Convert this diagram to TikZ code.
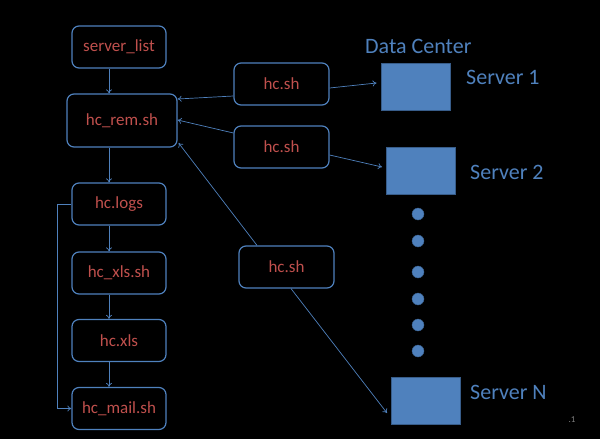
\documentclass[tikz,border=0pt]{standalone}
\usepackage{fontspec}
\setmainfont{Carlito}
\usetikzlibrary{arrows.meta,calc}
\definecolor{bord}{HTML}{4F81BD}
\definecolor{txt}{HTML}{C0504D}
\definecolor{sdark}{HTML}{385D8A}
\tikzset{
  filebox/.style={draw=bord,line width=1.2pt,rounded corners=7pt,text=txt,font=\fontsize{17}{20}\selectfont,inner sep=0pt},
  conn/.style={draw=bord,line width=0.7pt,-{To[length=4pt,width=6pt]}},
  plain/.style={draw=bord,line width=0.7pt},
  srv/.style={draw=sdark,fill=bord,line width=1pt,minimum width=69pt,minimum height=47pt,inner sep=0pt},
  srvlabel/.style={text=bord,font=\fontsize{22}{26}\selectfont,inner sep=0pt,anchor=west},
  dotc/.style={circle,fill=bord,draw=sdark,line width=0.4pt,minimum size=12pt,inner sep=0pt}
}
\begin{document}
\begin{tikzpicture}[x=1pt,y=-1pt]
\fill[black] (0,0) rectangle (600,439);
\useasboundingbox (0,0) rectangle (600,439);
% left column
\node[filebox,minimum width=94pt,minimum height=42pt] (sl) at (119,47) {server\_list};
\node[filebox,minimum width=110pt,minimum height=53pt] (rem) at (122,120.5) {hc\_rem.sh};
\node[filebox,minimum width=94pt,minimum height=42pt] (logs) at (119,204) {hc.logs};
\node[filebox,minimum width=94pt,minimum height=42pt] (xlssh) at (119,273) {hc\_xls.sh};
\node[filebox,minimum width=94pt,minimum height=42pt] (xls) at (119,340.5) {hc.xls};
\node[filebox,minimum width=94pt,minimum height=42pt] (mail) at (119,408.5) {hc\_mail.sh};
% hc.sh boxes
\node[filebox,minimum width=95pt,minimum height=42pt] (h1) at (281.5,84) {hc.sh};
\node[filebox,minimum width=95pt,minimum height=42pt] (h2) at (281.5,147) {hc.sh};
\node[filebox,minimum width=95pt,minimum height=42pt] (h3) at (286.5,267) {hc.sh};
% servers
\node[srv] (s1) at (415.5,86.5) {};
\node[srv] (s2) at (421,170.5) {};
\node[srv] (sn) at (426,401) {};
\node[srvlabel] (dc) at (365,46) {Data Center};
\node[srvlabel] (l1) at (466,77) {Server 1};
\node[srvlabel] (l2) at (470,172) {Server 2};
\node[srvlabel] (ln) at (470,392) {Server N};
\foreach \i/\y in {1/214,2/241,3/272,4/299,5/325,6/351}
  \node[dotc] (d\i) at (418,\y) {};
\node[text=gray,font=\fontsize{9}{10}\selectfont,inner sep=0pt] (pg) at (572,420) {.1};
% vertical arrows
\draw[conn] ([xshift=-10pt]sl.south) -- ([xshift=-13pt]rem.north);
\draw[conn] ([xshift=-13pt]rem.south) -- ([xshift=-10pt]logs.north);
\draw[conn] ([xshift=-10pt]logs.south) -- ([xshift=-10pt]xlssh.north);
\draw[conn] ([xshift=-10pt]xlssh.south) -- ([xshift=-10pt]xls.north);
\draw[conn] ([xshift=-10pt]xls.south) -- ([xshift=-10pt]mail.north);
% loop from logs to mail
\coordinate (lA) at (57,204);
\coordinate (lB) at (57,408.5);
\draw[conn] (logs.west) -- (lA) -- (lB) -- (mail.west);
% hc.sh to hc_rem
\draw[conn] ([yshift=-12pt]h1.west) -- ([yshift=21.5pt]rem.east);
\draw[conn] ([yshift=14pt]h2.west) -- ([yshift=0.5pt]rem.east);
\draw[conn] ([xshift=-29.5pt]h3.north) -- ([xshift=1pt,yshift=-22.5pt]rem.east);
% hc.sh to servers
\draw[conn] ([yshift=-4pt]h1.east) -- ([xshift=-4pt,yshift=3.5pt]s1.west);
\draw[conn] ([yshift=-8pt]h2.east) -- ([xshift=-4pt,yshift=3.5pt]s2.west);
\draw[conn] ([xshift=4.5pt]h3.south) -- ([xshift=-4pt,yshift=-12pt]sn.west);
\end{tikzpicture}
\end{document}
